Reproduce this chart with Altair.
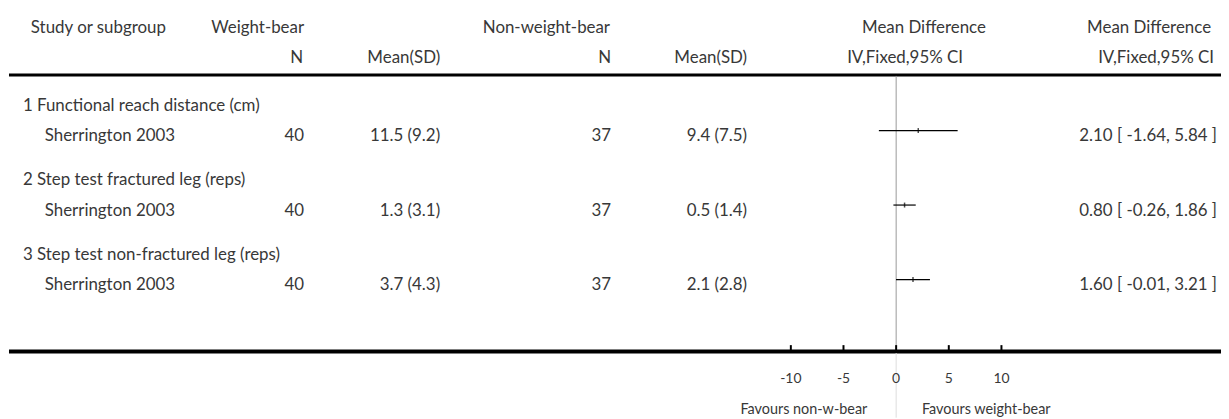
import altair as alt
import pandas as pd

# ---- data ----
groups = ["1 Functional reach distance (cm)",
          "2 Step test fractured leg (reps)",
          "3 Step test non-fractured leg (reps)"]
studies = ["Sherrington 2003", "Sherrington 2003", "Sherrington 2003"]
n_wb = [40, 40, 40]
msd_wb = ["11.5 (9.2)", "1.3 (3.1)", "3.7 (4.3)"]
n_nwb = [37, 37, 37]
msd_nwb = ["9.4 (7.5)", "0.5 (1.4)", "2.1 (2.8)"]
md = [2.10, 0.80, 1.60]
lo = [-1.64, -0.26, -0.01]
hi = [5.84, 1.86, 3.21]
ci_text = ["2.10 [ -1.64, 5.84 ]", "0.80 [ -0.26, 1.86 ]", "1.60 [ -0.01, 3.21 ]"]
ticks = [-10, -5, 0, 5, 10]

df = pd.DataFrame({
    "row": [1, 2, 3], "group": groups, "study": studies,
    "n1": n_wb, "m1": msd_wb, "n2": n_nwb, "m2": msd_nwb,
    "md": md, "lo": lo, "hi": hi, "ci": ci_text,
})
tdf = pd.DataFrame({"v": ticks, "lab": [str(t) for t in ticks]})

FONT = "Lato"
FS = 17
COL = "#383838"

xs = alt.Scale(domain=[-10, 10], range=[788, 1000])
ys = alt.Scale(domain=[1, 3], range=[122, 272])
Y = alt.Y("row:Q", scale=ys, axis=None)

base = alt.Chart(df)


def col_text(field, x, align, dy=11):
    return base.mark_text(align=align, baseline="alphabetic", dy=dy,
                          font=FONT, fontSize=FS, color=COL).encode(
        x=alt.value(x), y=Y, text=f"{field}:N")


def label(text, x, y, align, size=FS):
    return alt.Chart(pd.DataFrame({"t": [text]})).mark_text(
        align=align, baseline="alphabetic", font=FONT, fontSize=size, color=COL
    ).encode(x=alt.value(x), y=alt.value(y), text="t:N")


def hline(y, width):
    return alt.Chart(pd.DataFrame({"t": [0]})).mark_rule(
        color="black", strokeWidth=width).encode(
        x=alt.value(1), x2=alt.value(1221), y=alt.value(y))


layers = [
    # headers
    label("Study or subgroup", 23, 24, "left"),
    label("Weight-bear", 298, 24, "right"),
    label("Non-weight-bear", 606, 24, "right"),
    label("Mean Difference", 922, 24, "center"),
    label("Mean Difference", 1211, 24, "right"),
    label("N", 297, 54, "right"),
    label("Mean(SD)", 435, 54, "right"),
    label("N", 607, 54, "right"),
    label("Mean(SD)", 744, 54, "right"),
    label("IV,Fixed,95% CI", 903, 54, "center"),
    label("IV,Fixed,95% CI", 1214, 54, "right"),
    hline(66, 3),
    hline(344.5, 4),
    # zero line
    alt.Chart(pd.DataFrame({"t": [0]})).mark_rule(color="#999999", strokeWidth=1).encode(
        x=alt.X("t:Q", scale=xs, axis=None), y=alt.value(67), y2=alt.value(343)),
    alt.Chart(pd.DataFrame({"t": [0]})).mark_rule(color="#dddddd", strokeWidth=1).encode(
        x=alt.X("t:Q", scale=xs, axis=None), y=alt.value(346), y2=alt.value(411)),
    # rows
    base.mark_text(align="left", baseline="alphabetic", dy=-20, font=FONT,
                   fontSize=FS, color=COL).encode(x=alt.value(15), y=Y, text="group:N"),
    col_text("study", 37, "left"),
    col_text("n1", 298, "right"),
    col_text("m1", 435, "right"),
    col_text("n2", 607, "right"),
    col_text("m2", 744, "right"),
    col_text("ci", 1217, "right"),
    # CIs
    base.mark_rule(color="black", strokeWidth=1.2).encode(
        x=alt.X("lo:Q", scale=xs, axis=None), x2="hi:Q", y=Y),
    base.mark_tick(orient="vertical", size=5, thickness=1.5, color="black").encode(
        x=alt.X("md:Q", scale=xs, axis=None), y=Y),
    # axis ticks and labels
    alt.Chart(tdf).mark_rule(color="black", strokeWidth=2).encode(
        x=alt.X("v:Q", scale=xs, axis=None), y=alt.value(338), y2=alt.value(344)),
    alt.Chart(tdf).mark_text(align="center", baseline="alphabetic", font=FONT,
                             fontSize=14, color=COL).encode(
        x=alt.X("v:Q", scale=xs, axis=None), y=alt.value(376), text="lab:N"),
    # favours
    alt.Chart(pd.DataFrame({"t": [0]})).mark_text(
        align="right", baseline="alphabetic", dx=-29, font=FONT, fontSize=14.5, color=COL
    ).encode(x=alt.X("t:Q", scale=xs, axis=None), y=alt.value(407),
             text=alt.value("Favours non-w-bear")),
    alt.Chart(pd.DataFrame({"t": [0]})).mark_text(
        align="left", baseline="alphabetic", dx=26, font=FONT, fontSize=14.5, color=COL
    ).encode(x=alt.X("t:Q", scale=xs, axis=None), y=alt.value(407),
             text=alt.value("Favours weight-bear")),
]

chart = alt.layer(*layers).properties(
    width=1221, height=411, padding=0,
    autosize=alt.AutoSizeParams(type="none"),
).configure_view(stroke=None)

chart.save("out.html", embed_options={"renderer": "svg", "actions": False})
